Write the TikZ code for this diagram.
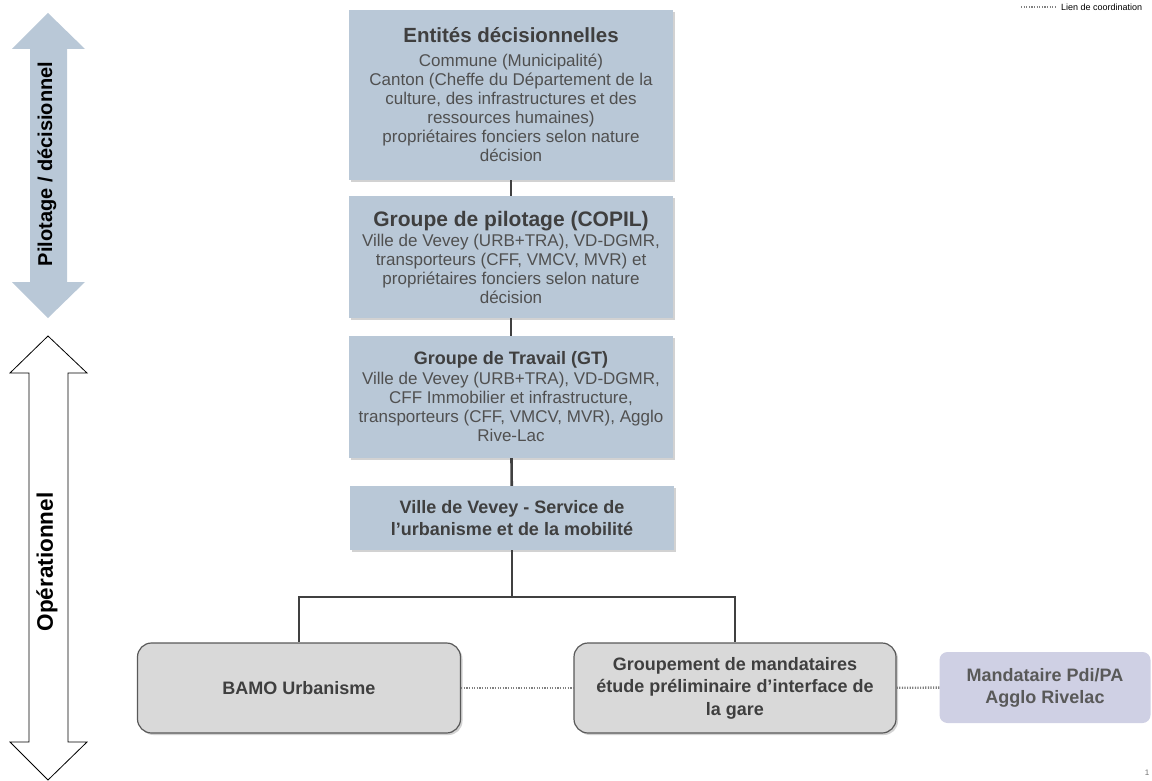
\documentclass[tikz,border=0pt]{standalone}
\usepackage{fontspec}
\setmainfont{Liberation Sans}
\usetikzlibrary{shadows}

\definecolor{boxblue}{HTML}{B9C8D7}
\definecolor{boxgrey}{HTML}{D9D9D9}
\definecolor{boxlila}{HTML}{CFD0E4}
\definecolor{txtdark}{HTML}{3F3F3F}
\definecolor{txtbody}{HTML}{505050}
\definecolor{linedark}{HTML}{404040}

\tikzset{
    bluebox/.style={fill=boxblue, text=txtbody, align=center, inner sep=2pt,
        minimum width=324pt, font=\fontsize{17}{19}\selectfont,
        drop shadow={shadow xshift=2pt, shadow yshift=-2pt, fill=black!35}},
    greybox/.style={fill=boxgrey, draw=black!65, line width=1.2pt, rounded corners=14pt,
        text=txtdark, align=center, minimum width=323pt, minimum height=90pt,
        font=\fontsize{18}{22.5}\selectfont\bfseries,
        drop shadow={shadow xshift=2pt, shadow yshift=-2pt, fill=black!35}},
    link/.style={draw=linedark, line width=2.6pt},
    coord/.style={draw=black!50, line width=2.4pt, dash pattern=on 1.2pt off 1.4pt},
    sidelabel/.style={rotate=90, font=\bfseries},
}

\newcommand{\titletxt}{\color{txtdark}\fontsize{20.5}{20}\selectfont\bfseries}

\begin{document}
\begin{tikzpicture}[x=1pt, y=-1pt]
            \useasboundingbox (0,0) rectangle (1152,781);

            % side arrows
            \fill[boxblue] (48,13) -- (85,49) -- (67,49) -- (67,282) -- (85,282) -- (48,318) -- (12,282) -- (30,282) -- (30,49) -- (12,49) -- cycle;
            \node[sidelabel, font=\fontsize{20}{24}\selectfont\bfseries] (pilot) at (47,164) {Pilotage / décisionnel};

            \draw[fill=white, line width=0.8pt] (48,336) -- (87,373) -- (68,373) -- (68,742) -- (87,742) -- (48,780) -- (10,742) -- (29,742) -- (29,373) -- (10,373) -- cycle;
            \node[sidelabel, font=\fontsize{22.5}{26}\selectfont\bfseries] (oper) at (47,562) {Opérationnel};

            % boxes
            \node[bluebox, minimum height=170pt] (ent) at (511,95) {{\titletxt Entités décisionnelles}\\[5pt]
                Commune (Municipalité)\\ Canton (Cheffe du Département de la\\ culture, des infrastructures et des\\ ressources humaines)\\ propriétaires fonciers selon nature\\ décision};
            \node[bluebox, minimum height=122pt] (copil) at (511,257) {{\color{txtdark}\fontsize{21}{20}\selectfont\bfseries Groupe de pilotage (COPIL)}\\[1pt]
                Ville de Vevey (URB+TRA), VD-DGMR,\\ transporteurs (CFF, VMCV, MVR) et\\ propriétaires fonciers selon nature\\ décision};
            \node[bluebox, minimum height=122pt] (gt) at (511,397) {{\color{txtdark}\fontsize{18}{20}\selectfont\bfseries Groupe de Travail (GT)}\\[1pt]
                Ville de Vevey (URB+TRA), VD-DGMR,\\ CFF Immobilier et infrastructure,\\ transporteurs (CFF, VMCV, MVR), Agglo\\ Rive-Lac};
            \node[bluebox, minimum height=64pt, text=txtdark, font=\fontsize{18}{22}\selectfont\bfseries] (ville) at (512,518) {Ville de Vevey - Service de\\ l’urbanisme et de la mobilité};

            \node[greybox] (bamo) at (299,688) {BAMO Urbanisme};
            \node[greybox, minimum width=322pt] (grp) at (735,688) {Groupement de mandataires\\ étude préliminaire d’interface de\\ la gare};
            \node[fill=boxlila, rounded corners=8pt, minimum width=211pt, minimum height=71pt, align=center,
                text=black!65, font=\fontsize{18}{22}\selectfont\bfseries] (pdi) at (1045,687.5) {Mandataire Pdi/PA\\ Agglo Rivelac};

            % links
            \coordinate (hub) at (512,597);
            \draw[link] (ent) -- (copil);
            \draw[link] (copil) -- (gt);
            \draw[link] (gt) -- (ville);
            \draw[link] (ville) -- (hub);
            \draw[link] (hub) -| (bamo);
            \draw[link] (hub) -| (grp);

            \draw[coord] (bamo) -- (grp);
            \draw[coord] (grp) -- (pdi);

            % legend
            \coordinate (legA) at (1021,7);
            \coordinate (legB) at (1056,7);
            \draw[coord, line width=2pt] (legA) -- (legB);
            \node[right, font=\fontsize{9}{11}\selectfont, inner sep=1pt] (legtxt) at (1060,7) {Lien de coordination};

            \node[text=black!55, font=\fontsize{8}{9}\selectfont] (pageno) at (1147,773) {1};
        \end{tikzpicture}
\end{document}
